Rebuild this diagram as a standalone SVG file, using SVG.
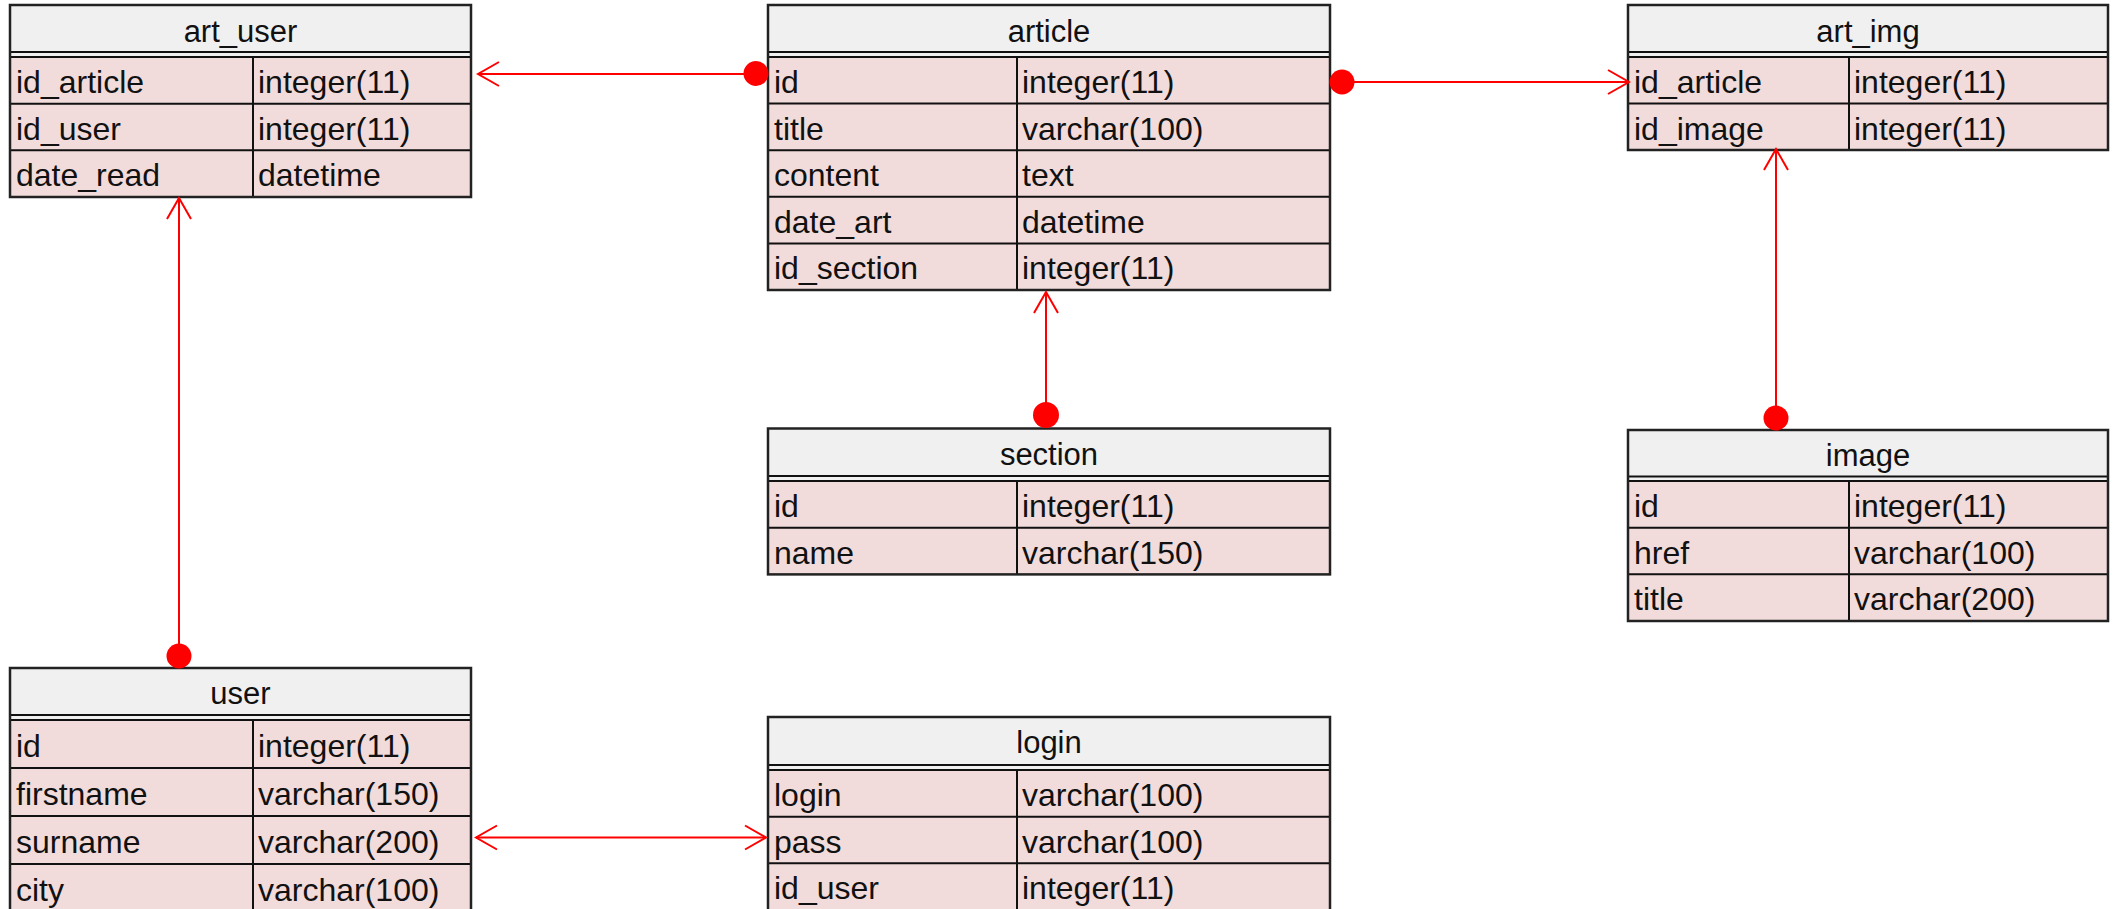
<svg xmlns="http://www.w3.org/2000/svg" width="2118" height="909" viewBox="0 0 2118 909">
<style>
.hd{fill:#f0f0f0;stroke:none}
.rw{fill:#f2dcdb;stroke:none}
.ln{stroke:#111;stroke-width:2;fill:none}
.ob{stroke:#222;stroke-width:2.5;fill:none}
text{font-family:"Liberation Sans",Arial,sans-serif;font-size:32px;fill:#111}
.t{text-anchor:middle;font-size:31px}
.cn{stroke:#ff0000;stroke-width:2;fill:none}
.dot{fill:#ff0000}
</style>
<defs>
<marker id="arr" viewBox="-23 -14 25 28" refX="0" refY="0" markerWidth="25" markerHeight="28" markerUnits="userSpaceOnUse" orient="auto-start-reverse">
<path d="M-21,-12 L0,0 L-21,12" fill="none" stroke="#ff0000" stroke-width="2"/>
</marker>
</defs>
<rect width="2118" height="909" fill="#ffffff"/>

<g id="art_user">
<rect class="hd" x="10" y="5" width="461" height="52"/>
<rect class="rw" x="10" y="57" width="461" height="140"/>
<path class="ln" d="M10,52H471M10,57H471M10,103.7H471M10,150.3H471M253,57V197"/>
<rect class="ob" x="10" y="5" width="461" height="192"/>
<text class="t" x="240.5" y="42">art_user</text>
<text x="16" y="93">id_article</text><text x="258" y="93">integer(11)</text>
<text x="16" y="139.7">id_user</text><text x="258" y="139.7">integer(11)</text>
<text x="16" y="186.3">date_read</text><text x="258" y="186.3">datetime</text>
</g>

<g id="article">
<rect class="hd" x="768" y="5" width="562" height="52"/>
<rect class="rw" x="768" y="57" width="562" height="233"/>
<path class="ln" d="M768,52H1330M768,57H1330M768,103.6H1330M768,150.2H1330M768,196.8H1330M768,243.4H1330M1017,57V290"/>
<rect class="ob" x="768" y="5" width="562" height="285"/>
<text class="t" x="1049" y="42">article</text>
<text x="774" y="93">id</text><text x="1022" y="93">integer(11)</text>
<text x="774" y="139.6">title</text><text x="1022" y="139.6">varchar(100)</text>
<text x="774" y="186.2">content</text><text x="1022" y="186.2">text</text>
<text x="774" y="232.8">date_art</text><text x="1022" y="232.8">datetime</text>
<text x="774" y="279.4">id_section</text><text x="1022" y="279.4">integer(11)</text>
</g>

<g id="art_img">
<rect class="hd" x="1628" y="5" width="480" height="52"/>
<rect class="rw" x="1628" y="57" width="480" height="93"/>
<path class="ln" d="M1628,52H2108M1628,57H2108M1628,103.5H2108M1849,57V150"/>
<rect class="ob" x="1628" y="5" width="480" height="145"/>
<text class="t" x="1868" y="42">art_img</text>
<text x="1634" y="93">id_article</text><text x="1854" y="93">integer(11)</text>
<text x="1634" y="139.5">id_image</text><text x="1854" y="139.5">integer(11)</text>
</g>

<g id="section">
<rect class="hd" x="768" y="428.5" width="562" height="52.5"/>
<rect class="rw" x="768" y="481" width="562" height="93.4"/>
<path class="ln" d="M768,476H1330M768,481H1330M768,527.7H1330M1017,481V574.4"/>
<rect class="ob" x="768" y="428.5" width="562" height="145.9"/>
<text class="t" x="1049" y="465">section</text>
<text x="774" y="517">id</text><text x="1022" y="517">integer(11)</text>
<text x="774" y="563.7">name</text><text x="1022" y="563.7">varchar(150)</text>
</g>

<g id="image">
<rect class="hd" x="1628" y="430" width="480" height="51"/>
<rect class="rw" x="1628" y="481" width="480" height="140"/>
<path class="ln" d="M1628,476.5H2108M1628,481H2108M1628,527.7H2108M1628,574.3H2108M1849,481V621"/>
<rect class="ob" x="1628" y="430" width="480" height="191"/>
<text class="t" x="1868" y="466">image</text>
<text x="1634" y="517">id</text><text x="1854" y="517">integer(11)</text>
<text x="1634" y="563.7">href</text><text x="1854" y="563.7">varchar(100)</text>
<text x="1634" y="610.3">title</text><text x="1854" y="610.3">varchar(200)</text>
</g>

<g id="user">
<rect class="hd" x="10" y="668" width="461" height="52"/>
<rect class="rw" x="10" y="720" width="461" height="200"/>
<path class="ln" d="M10,715H471M10,720H471M10,768H471M10,816H471M10,864H471M253,720V920"/>
<rect class="ob" x="10" y="668" width="461" height="252"/>
<text class="t" x="240.5" y="704">user</text>
<text x="16" y="757">id</text><text x="258" y="757">integer(11)</text>
<text x="16" y="805">firstname</text><text x="258" y="805">varchar(150)</text>
<text x="16" y="853">surname</text><text x="258" y="853">varchar(200)</text>
<text x="16" y="901">city</text><text x="258" y="901">varchar(100)</text>
</g>

<g id="login">
<rect class="hd" x="768" y="717" width="562" height="53"/>
<rect class="rw" x="768" y="770" width="562" height="150"/>
<path class="ln" d="M768,765H1330M768,770H1330M768,816.7H1330M768,863.3H1330M1017,770V920"/>
<rect class="ob" x="768" y="717" width="562" height="203"/>
<text class="t" x="1049" y="753">login</text>
<text x="774" y="806">login</text><text x="1022" y="806">varchar(100)</text>
<text x="774" y="852.7">pass</text><text x="1022" y="852.7">varchar(100)</text>
<text x="774" y="899.3">id_user</text><text x="1022" y="899.3">integer(11)</text>
</g>

<g id="connectors">
<path class="cn" d="M756,74H478" marker-end="url(#arr)"/>
<circle class="dot" cx="756" cy="73.5" r="12.5"/>
<path class="cn" d="M1342,82H1629" marker-end="url(#arr)"/>
<circle class="dot" cx="1342" cy="82" r="12.5"/>
<path class="cn" d="M1046,415V292" marker-end="url(#arr)"/>
<circle class="dot" cx="1046" cy="415" r="13"/>
<path class="cn" d="M1776,418V149" marker-end="url(#arr)"/>
<circle class="dot" cx="1776" cy="418" r="12.5"/>
<path class="cn" d="M179,656V198" marker-end="url(#arr)"/>
<circle class="dot" cx="179" cy="656" r="12.5"/>
<path class="cn" d="M476,837.5H766" marker-start="url(#arr)" marker-end="url(#arr)"/>
</g>
</svg>
